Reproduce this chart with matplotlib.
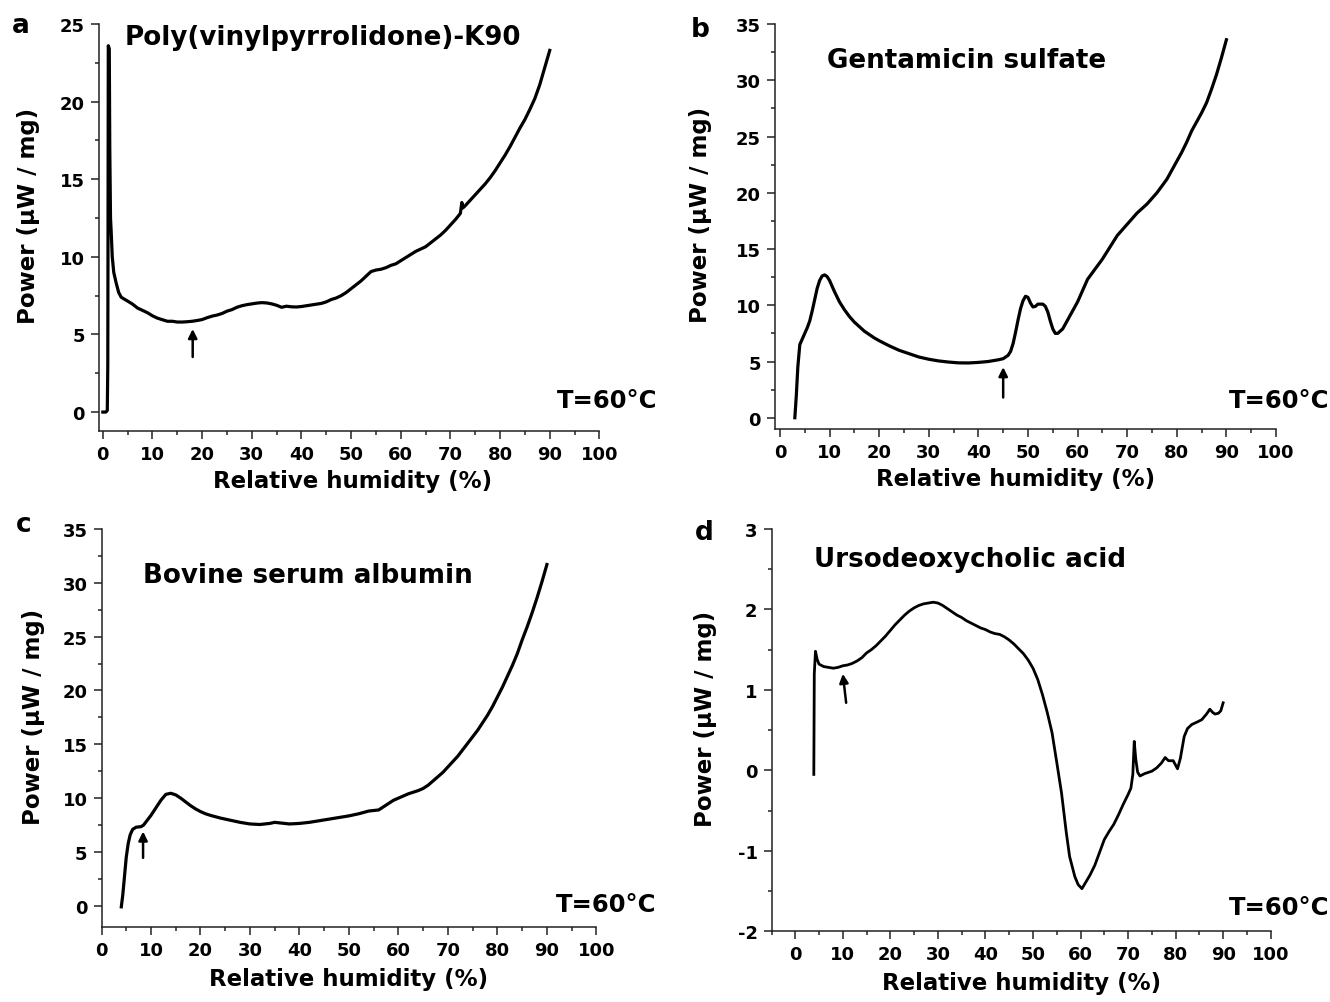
"""
Heat flow vs relative humidity at 60 C for four materials (panels a-d).
"""

import matplotlib
matplotlib.use("Agg")
import matplotlib.pyplot as plt
from matplotlib.ticker import MultipleLocator

FIG_W, FIG_H = 1330, 1003

# ---- panel a: Poly(vinylpyrrolidone)-K90 ----
PVP_RH = [0.0, 0.6, 0.9, 1.0, 1.05, 1.1, 1.3, 1.4, 1.55, 1.7, 1.9, 2.2, 2.7, 3.2,
          3.7, 4.2, 5, 6, 7, 8, 9, 10, 11, 12, 13, 14, 15, 16, 17, 18, 19, 20,
          21, 22, 23, 24, 25, 26, 27, 28, 29, 30, 31, 32, 33, 34, 35, 36, 37,
          38, 39, 40, 41, 42, 43, 44, 45, 46, 47, 48, 49, 50, 51, 52, 53, 54,
          55, 56, 57, 58, 59, 60, 61, 62, 63, 64, 65, 66, 67, 68, 69, 70, 71,
          72, 72.3, 72.5, 73, 74, 75, 76, 77, 78, 79, 80, 81, 82, 83, 84, 85,
          86, 87, 88, 89, 90]
PVP_POWER = [0.0, 0.0, 0.1, 3.0, 12.0, 23.6, 23.4, 17.0, 12.5, 11.5, 10.0, 9.0,
             8.3, 7.7, 7.4, 7.3, 7.15, 6.95, 6.7, 6.55, 6.4, 6.2, 6.05, 5.95,
             5.85, 5.85, 5.8, 5.8, 5.82, 5.85, 5.9, 5.96, 6.08, 6.18, 6.25,
             6.35, 6.5, 6.6, 6.75, 6.85, 6.92, 6.97, 7.02, 7.05, 7.03, 6.97,
             6.88, 6.75, 6.82, 6.78, 6.77, 6.8, 6.85, 6.9, 6.95, 7.0, 7.1,
             7.25, 7.35, 7.5, 7.7, 7.95, 8.2, 8.45, 8.75, 9.05, 9.15, 9.2, 9.3,
             9.45, 9.55, 9.75, 9.95, 10.15, 10.35, 10.5, 10.65, 10.9, 11.15,
             11.4, 11.7, 12.05, 12.4, 12.8, 13.5, 13.15, 13.3, 13.65, 14.0,
             14.35, 14.7, 15.1, 15.55, 16.05, 16.55, 17.1, 17.7, 18.3, 18.85,
             19.5, 20.2, 21.1, 22.2, 23.3]

# ---- panel b: Gentamicin sulfate ----
GEN_RH = [3.0, 3.3, 3.6, 4.0, 4.5, 5.0, 5.5, 6.0, 6.5, 7.0, 7.5, 8.0, 8.5, 9.0,
          9.5, 10.0, 10.5, 11, 12, 13, 14, 15, 16, 17, 18, 19, 20, 22, 24, 26,
          28, 30, 32, 34, 36, 38, 40, 42, 44, 45, 46, 46.5, 47, 47.5, 48, 48.5,
          49, 49.5, 50, 50.5, 51, 51.5, 52, 53, 53.5, 54, 54.5, 55, 55.5, 56,
          57, 58, 59, 60, 61, 62, 63, 64, 65, 66, 67, 68, 69, 70, 71, 72, 73,
          74, 75, 76, 77, 78, 79, 80, 81, 82, 83, 84, 85, 86, 87, 88, 89, 90]
GEN_POWER = [0.0, 2.0, 4.5, 6.5, 7.0, 7.5, 8.0, 8.6, 9.5, 10.5, 11.5, 12.2,
             12.6, 12.7, 12.55, 12.2, 11.7, 11.2, 10.3, 9.6, 9.0, 8.5, 8.1,
             7.7, 7.4, 7.1, 6.85, 6.4, 6.0, 5.7, 5.4, 5.2, 5.05, 4.95, 4.88,
             4.87, 4.92, 5.0, 5.15, 5.25, 5.55, 5.9, 6.6, 7.6, 8.7, 9.7, 10.4,
             10.8, 10.7, 10.2, 9.85, 9.9, 10.1, 10.1, 9.9, 9.4, 8.6, 7.9, 7.5,
             7.5, 7.9, 8.7, 9.5, 10.3, 11.3, 12.3, 12.9, 13.5, 14.1, 14.8, 15.5,
             16.2, 16.7, 17.2, 17.7, 18.2, 18.6, 19.0, 19.5, 20.0, 20.6, 21.2,
             22.0, 22.8, 23.6, 24.5, 25.5, 26.3, 27.1, 28.0, 29.2, 30.5, 32.0,
             33.6]

# ---- panel c: Bovine serum albumin ----
BSA_RH = [4.0, 4.3, 4.6, 5.0, 5.4, 5.8, 6.3, 7, 8, 8.5, 9, 10, 11, 12, 13, 14,
          15, 16, 17, 18, 19, 20, 21, 22, 24, 26, 28, 30, 32, 34, 35, 36, 38,
          40, 42, 44, 46, 48, 50, 52, 54, 56, 57, 58, 59, 60, 61, 62, 63, 64,
          65, 66, 67, 68, 69, 70, 71, 72, 73, 74, 75, 76, 77, 78, 79, 80, 81,
          82, 83, 84, 85, 86, 87, 88, 89, 90]
BSA_POWER = [-0.1, 1.0, 2.5, 4.5, 5.8, 6.6, 7.1, 7.3, 7.35, 7.5, 7.8, 8.4, 9.1,
             9.8, 10.35, 10.45, 10.3, 10.0, 9.65, 9.3, 9.0, 8.75, 8.55, 8.4,
             8.15, 7.95, 7.75, 7.6, 7.55, 7.65, 7.75, 7.7, 7.6, 7.65, 7.75,
             7.9, 8.05, 8.2, 8.35, 8.55, 8.8, 8.9, 9.2, 9.5, 9.8, 10.0, 10.2,
             10.4, 10.55, 10.7, 10.9, 11.2, 11.6, 12.0, 12.4, 12.9, 13.4, 13.9,
             14.5, 15.1, 15.7, 16.3, 17.0, 17.7, 18.5, 19.4, 20.3, 21.3, 22.3,
             23.4, 24.7, 25.9, 27.2, 28.6, 30.1, 31.7]

# ---- panel d: Ursodeoxycholic acid ----
UDCA_RH = [3.9, 4.0, 4.25, 4.6, 5, 6, 7, 8, 9, 10, 11, 12, 13, 14, 15, 16, 17,
           18, 19, 20, 21, 22, 23, 24, 25, 26, 27, 28, 29, 30, 31, 32, 33, 34,
           35, 36, 37, 38, 39, 40, 41, 42, 43, 44, 45, 46, 47, 48, 49, 50, 51,
           52, 53, 54, 55, 56, 57, 57.7, 58.8, 59.5, 60.3, 61, 62, 63, 64,
           64.5, 65, 66, 67, 68, 69, 70, 70.6, 71, 71.3, 71.6, 72, 72.5, 73.5,
           75, 76, 77, 77.8, 78.5, 79.5, 80.4, 81, 81.8, 82.5, 83.4, 84.5,
           85.5, 86.5, 87.2, 87.8, 88.3, 89, 89.5, 90]
UDCA_POWER = [-0.05, 1.2, 1.48, 1.38, 1.32, 1.29, 1.28, 1.27, 1.28, 1.3, 1.31,
              1.33, 1.36, 1.4, 1.46, 1.5, 1.55, 1.61, 1.67, 1.74, 1.81, 1.87,
              1.93, 1.98, 2.02, 2.05, 2.07, 2.08, 2.09, 2.08, 2.05, 2.01, 1.97,
              1.93, 1.9, 1.86, 1.83, 1.8, 1.77, 1.75, 1.72, 1.7, 1.69, 1.66,
              1.62, 1.57, 1.51, 1.45, 1.37, 1.27, 1.13, 0.94, 0.72, 0.47, 0.1,
              -0.28, -0.77, -1.07, -1.32, -1.42, -1.47, -1.4, -1.3, -1.18,
              -1.02, -0.94, -0.86, -0.76, -0.67, -0.55, -0.42, -0.3, -0.22,
              -0.05, 0.36, 0.15, -0.02, -0.07, -0.04, -0.01, 0.03, 0.09, 0.16,
              0.12, 0.12, 0.02, 0.15, 0.42, 0.52, 0.57, 0.6, 0.63, 0.7, 0.76,
              0.72, 0.7, 0.71, 0.74, 0.84]

# arrows: (x tail, y tail, x tip, y tip) in data units
ARROWS = [(18.1, 3.55, 18.1, 5.35), (45.0, 1.8, 45.0, 4.5),
          (8.4, 4.45, 8.4, 6.9), (10.7, 0.84, 10.0, 1.2)]

TITLES = ["Poly(vinylpyrrolidone)-K90", "Gentamicin sulfate",
          "Bovine serum albumin", "Ursodeoxycholic acid"]
LETTERS = ["a", "b", "c", "d"]


def frac(x, y):
    """Pixel position in the 1330x1003 image -> figure fraction."""
    return x / FIG_W, 1 - y / FIG_H


def main():
    plt.rcParams["font.family"] = "DejaVu Sans"
    plt.rcParams["font.weight"] = "bold"
    plt.rcParams["axes.labelweight"] = "bold"
    plt.rcParams["axes.unicode_minus"] = False

    fig = plt.figure(figsize=(FIG_W / 100, FIG_H / 100), dpi=100)

    # axes boxes in pixels: left, top, right, bottom
    boxes = [(98.6, 25, 599.4, 431.7), (775, 25, 1276, 430),
             (101.5, 530, 596.4, 928.3), (771.5, 530, 1270.7, 932.3)]
    series = [(PVP_RH, PVP_POWER), (GEN_RH, GEN_POWER),
              (BSA_RH, BSA_POWER), (UDCA_RH, UDCA_POWER)]
    xlims = [(-0.85, 100), (-1.0, 100), (0, 100), (-5, 100)]
    ylims = [(-1.2, 25), (-1.0, 35), (-2.0, 35), (-2.0, 3)]
    ymajor = [5, 5, 5, 1]
    line_w = [2.3, 2.3, 2.3, 2.0]
    ylab_x = [-0.117, -0.125, -0.115, -0.110]
    xlab_pos = [(0.508, -0.093), (0.48, -0.095), (0.5, -0.100), (0.5, -0.098)]

    title_pos = [(125, 45), (827, 68), (143, 583), (814, 567)]
    temp_pos = [(657, 408), (1329, 408), (656, 912), (1329, 915)]
    letter_pos = [(12, 33), (691, 37), (16, 532), (695, 540)]

    for i in range(4):
        left, top, right, bottom = boxes[i]
        ax = fig.add_axes([left / FIG_W, 1 - bottom / FIG_H,
                           (right - left) / FIG_W, (bottom - top) / FIG_H])
        rh, power = series[i]
        ax.plot(rh, power, color="black", linewidth=line_w[i],
                solid_joinstyle="round")

        ax.set_xlim(*xlims[i])
        ax.set_ylim(*ylims[i])
        ax.xaxis.set_major_locator(MultipleLocator(10))
        ax.xaxis.set_minor_locator(MultipleLocator(5))
        ax.yaxis.set_major_locator(MultipleLocator(ymajor[i]))
        ax.yaxis.set_minor_locator(MultipleLocator(ymajor[i] / 2))
        ax.tick_params(which="major", direction="out", length=6, width=1.1,
                       labelsize=13, pad=4, color="#222222")
        ax.tick_params(which="minor", direction="out", length=3, width=1.1,
                       color="#222222")
        for side in ("top", "right"):
            ax.spines[side].set_visible(False)
        for side in ("left", "bottom"):
            ax.spines[side].set_linewidth(1.1)
            ax.spines[side].set_color("#222222")

        ax.set_ylabel("Power (μW / mg)", fontsize=16.5)
        ax.yaxis.set_label_coords(ylab_x[i], 0.53)
        ax.set_xlabel("Relative humidity (%)", fontsize=16.5)
        ax.xaxis.set_label_coords(*xlab_pos[i])

        x0, y0, x1, y1 = ARROWS[i]
        ax.annotate("", xy=(x1, y1), xytext=(x0, y0),
                    arrowprops=dict(arrowstyle="-|>", color="black", lw=1.8,
                                    mutation_scale=13, shrinkA=0, shrinkB=0))

        fig.text(*frac(*title_pos[i]), TITLES[i], fontsize=18.8,
                 ha="left", va="baseline")
        fig.text(*frac(*temp_pos[i]), "T=60°C", fontsize=17.5,
                 ha="right", va="baseline")
        fig.text(*frac(*letter_pos[i]), LETTERS[i], fontsize=19,
                 ha="left", va="baseline")

    fig.savefig("out.png", dpi=100)
    plt.close(fig)


if __name__ == "__main__":
    main()
